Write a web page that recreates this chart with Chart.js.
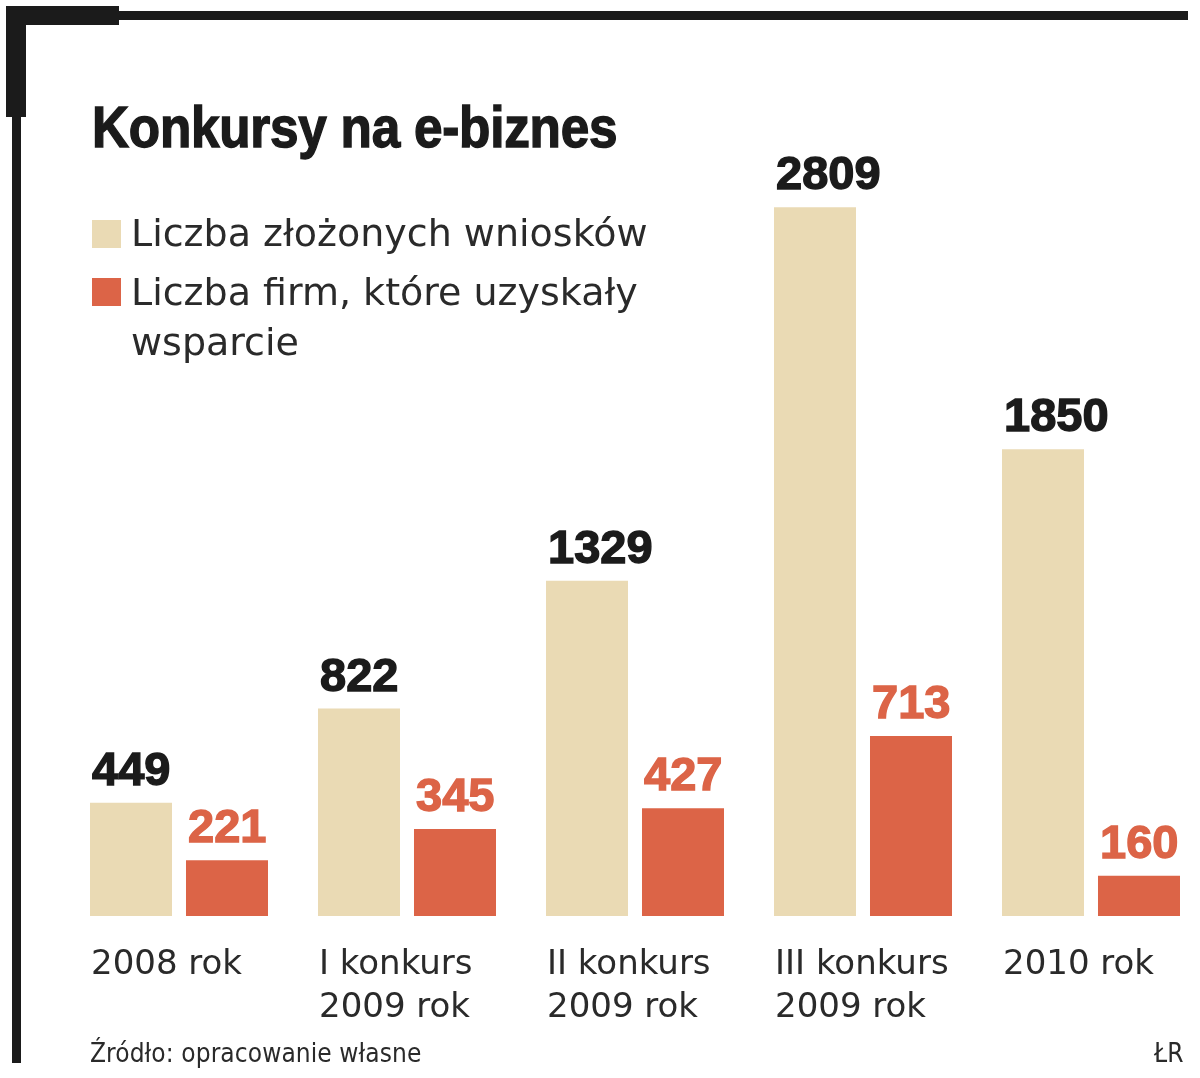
<!DOCTYPE html>
<html><head><meta charset="utf-8">
<script src="https://cdn.jsdelivr.net/npm/chart.js@4.4.1/dist/chart.umd.min.js"></script>
<style>
html,body{margin:0;padding:0;background:#fff;width:1200px;height:1078px;overflow:hidden}
#wrap{position:relative;width:1200px;height:1078px;background:#fff}
canvas{position:absolute;left:0;top:0}
.rule{position:absolute;background:#1b1b1b}
.t{position:absolute;white-space:nowrap;line-height:1;margin:0;color:#222}
#title{left:92px;top:98px;font-family:"Liberation Sans",Arial,sans-serif;font-weight:bold;font-size:58px;color:#1b1b1b;transform:scaleX(0.885);transform-origin:0 0;-webkit-text-stroke:1.4px #1b1b1b;letter-spacing:-0.3px}
.leg{font-family:"DejaVu Sans",sans-serif;font-size:38px;left:131px;color:#2a2a2a}
.sw{position:absolute;width:29px;height:28px}
.foot{font-family:"DejaVu Sans Condensed","DejaVu Sans",sans-serif;font-size:26px;color:#2a2a2a}
</style></head>
<body>
<div id="wrap">
<canvas id="c" width="1200" height="1078"></canvas>
<div class="rule" style="left:6px;top:6px;width:113px;height:19px"></div>
<div class="rule" style="left:119px;top:11px;width:1069px;height:9px"></div>
<div class="rule" style="left:6px;top:6px;width:20px;height:111px"></div>
<div class="rule" style="left:12px;top:117px;width:9px;height:946px"></div>
<div id="title" class="t">Konkursy na e-biznes</div>
<div class="sw" id="sw0" style="left:92px;top:220px"></div>
<div class="sw" id="sw1" style="left:92px;top:278px"></div>
<div class="t leg" id="leg0" style="top:214px"></div>
<div class="t leg" id="leg1a" style="top:273px"></div>
<div class="t leg" id="leg1b" style="top:323px"></div>
<div class="t foot" style="left:90px;top:1040px;letter-spacing:0.1px">Źródło: opracowanie własne</div>
<div class="t foot" style="left:1154px;top:1040px">ŁR</div>
</div>
<script>
// ---- data ----
const categories = [["2008 rok"], ["I konkurs", "2009 rok"], ["II konkurs", "2009 rok"], ["III konkurs", "2009 rok"], ["2010 rok"]];
const seriesNames = ["Liczba złożonych wniosków", "Liczba firm, które uzyskały wsparcie"];
const legendLines = [["Liczba złożonych wniosków"], ["Liczba firm, które uzyskały", "wsparcie"]];
const applications = [449, 822, 1329, 2809, 1850];
const supported = [221, 345, 427, 713, 160];
const yMin = 0, yMax = 3000;

// ---- styles ----
const barColors = ["#EADAB4", "#DC6447"];
const valueColors = ["#1b1b1b", "#DC6447"];

document.getElementById('sw0').style.background = barColors[0];
document.getElementById('sw1').style.background = barColors[1];
document.getElementById('leg0').textContent = legendLines[0][0];
document.getElementById('leg1a').textContent = legendLines[1][0];
document.getElementById('leg1b').textContent = legendLines[1][1];

const labelPlugin = {
  id: 'valueAndCategoryLabels',
  afterDatasetsDraw(chart) {
    const ctx = chart.ctx;
    ctx.save();
    ctx.textAlign = 'left';
    ctx.textBaseline = 'alphabetic';
    chart.data.datasets.forEach((ds, di) => {
      const meta = chart.getDatasetMeta(di);
      meta.data.forEach((bar, i) => {
        const left = bar.x - bar.width / 2;
        ctx.font = 'bold 47px "Liberation Sans", Arial, sans-serif';
        ctx.fillStyle = valueColors[di];
        ctx.strokeStyle = valueColors[di];
        ctx.lineWidth = 1.4;
        const txt = String(ds.data[i]);
        ctx.fillText(txt, left + 2, bar.y - 18);
        ctx.strokeText(txt, left + 2, bar.y - 18);
      });
    });
    const meta0 = chart.getDatasetMeta(0);
    ctx.font = '34px "DejaVu Sans", sans-serif';
    ctx.fillStyle = '#2a2a2a';
    chart.data.labels.forEach((lab, i) => {
      const bar = meta0.data[i];
      const left = bar.x - bar.width / 2;
      lab.forEach((line, j) => ctx.fillText(line, left + 1, chart.chartArea.bottom + 58 + j * 43));
    });
    ctx.restore();
  }
};

new Chart(document.getElementById('c'), {
  type: 'bar',
  data: {
    labels: categories,
    datasets: [
      { label: seriesNames[0], data: applications, backgroundColor: barColors[0], clip: false },
      { label: seriesNames[1], data: supported, backgroundColor: barColors[1], clip: false }
    ]
  },
  options: {
    responsive: false,
    animation: false,
    events: [],
    layout: { padding: { left: 179, right: 109, top: 159, bottom: 162 } },
    categoryPercentage: 0.8421,
    barPercentage: 0.8542,
    plugins: { legend: { display: false }, tooltip: { enabled: false }, title: { display: false } },
    scales: {
      x: { display: false, offset: false, grid: { display: false } },
      y: { display: false, min: yMin, max: yMax, grid: { display: false } }
    }
  },
  plugins: [labelPlugin]
});
</script>
</body></html>
